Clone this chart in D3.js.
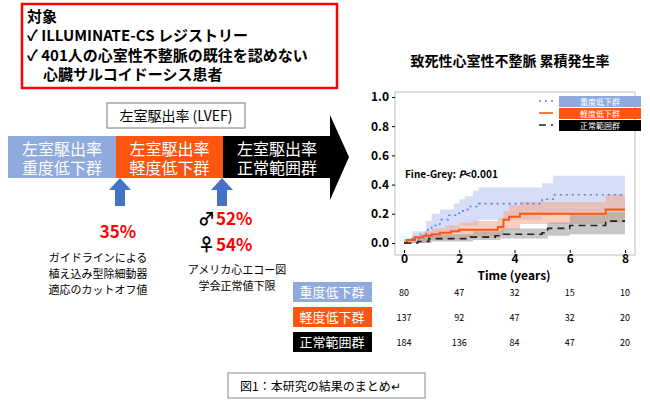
<!DOCTYPE html>
<html><head><meta charset="utf-8">
<script src="https://cdn.jsdelivr.net/npm/d3@7"></script>
<style>body{margin:0;background:#fff}text{font-family:"Noto Sans CJK JP","Noto Sans",sans-serif}</style>
</head><body><svg id="c" width="650" height="409"></svg>
<script>
// ---------------- data ----------------
var groups = ["重度低下群", "軽度低下群", "正常範囲群"];
var colors = ["#8faadc", "#fe5510", "#000000"];
var bandColors = ["#b4c3f0", "#f4a58a", "#999999"];
var lineColors = ["#5b7fe8", "#fe5510", "#222222"];
var dashes = ["2,4", null, "7,5"];

// cumulative incidence steps [time, value]
var severe = [[0,0],[0.3,0.03],[0.6,0.06],[0.8,0.09],[1.0,0.12],[1.3,0.16],[1.6,0.19],[2.0,0.22],[2.3,0.25],[2.7,0.27],[5.0,0.30],[5.4,0.33],[8,0.33]];
var severeHi = [[0,0.03],[0.3,0.08],[0.8,0.15],[1.0,0.20],[1.3,0.23],[1.8,0.27],[2.0,0.30],[2.2,0.32],[2.5,0.36],[2.7,0.38],[5.0,0.41],[5.4,0.46],[8,0.46]];
var severeLo = [[0,0],[0.8,0.02],[1.0,0.04],[1.3,0.07],[2.0,0.12],[2.7,0.16],[5.0,0.19],[5.4,0.21],[8,0.21]];
var mild = [[0,0],[0.1,0.02],[0.4,0.04],[0.7,0.05],[1.0,0.06],[1.3,0.07],[1.7,0.08],[2.0,0.09],[3.4,0.11],[3.6,0.16],[3.8,0.18],[4.2,0.20],[7.3,0.23],[8,0.23]];
var mildHi = [[0,0.02],[0.3,0.05],[0.7,0.08],[1.0,0.10],[1.5,0.12],[2.0,0.14],[2.5,0.15],[3.4,0.17],[3.6,0.22],[3.8,0.26],[4.2,0.28],[7.3,0.33],[8,0.33]];
var mildLo = [[0,0],[0.7,0.01],[1.0,0.02],[2.0,0.04],[3.4,0.05],[3.6,0.09],[4.2,0.13],[7.3,0.14],[8,0.14]];
var normal = [[0,0],[0.5,0.01],[0.9,0.03],[2.4,0.04],[3.3,0.05],[3.6,0.06],[5.0,0.07],[5.2,0.10],[6.0,0.12],[7.3,0.15],[8,0.15]];
var normalHi = [[0,0.01],[0.5,0.04],[1.0,0.06],[2.5,0.08],[3.5,0.10],[5.2,0.14],[6.0,0.20],[7.3,0.21],[8,0.21]];
var normalLo = [[0,0],[1.0,0.01],[2.5,0.02],[3.5,0.03],[5.2,0.05],[6.0,0.06],[8,0.06]];

var riskTimes = [0, 2, 4, 6, 8];
var atRisk = [[80,47,32,15,10],[137,92,47,32,20],[184,136,84,47,20]];
var yTicks = [0, 0.2, 0.4, 0.6, 0.8, 1.0];

var svg = d3.select("#c");

// ---------------- left panel ----------------
svg.append("rect").attr("x",22).attr("y",4).attr("width",315).attr("height",84)
  .attr("fill","#fff").attr("stroke","#f00").attr("stroke-width",2.5);
var boxLines = [["対象",27,22],["✓ ILLUMINATE-CS レジストリー",27,41],["✓ 401人の心室性不整脈の既往を認めない",27,61],["心臓サルコイドーシス患者",43,80]];
svg.selectAll(".bl").data(boxLines).enter().append("text")
  .attr("x",d=>d[1]).attr("y",d=>d[2]).attr("font-size",15).attr("font-weight","bold").text(d=>d[0]);

svg.append("rect").attr("x",107).attr("y",103).attr("width",138).attr("height",25)
  .attr("fill","#fff").attr("stroke","#777");
svg.append("text").attr("x",176).attr("y",121).attr("text-anchor","middle").attr("font-size",14).text("左室駆出率 (LVEF)");

var segX = [8,116,223,331];
groups.forEach(function(g,i){
  svg.append("rect").attr("x",segX[i]).attr("y",136).attr("width",segX[i+1]-segX[i]).attr("height",42).attr("fill",colors[i]);
  var cx = (segX[i]+segX[i+1])/2;
  svg.append("text").attr("x",cx).attr("y",155).attr("text-anchor","middle").attr("fill","#fff").attr("font-size",16).text("左室駆出率");
  svg.append("text").attr("x",cx).attr("y",174).attr("text-anchor","middle").attr("fill","#fff").attr("font-size",16).text(g);
});
svg.append("path").attr("d","M330,115L349,157L330,200Z").attr("fill","#000");

[120,222].forEach(function(x){
  svg.append("path").attr("d",`M${x},178L${x+11},190L${x+5},190L${x+5},206L${x-5},206L${x-5},190L${x-11},190Z`).attr("fill","#4472c4");
});
svg.append("text").attr("x",118).attr("y",238).attr("text-anchor","middle").attr("fill","#f00").attr("font-size",17).attr("font-weight","bold").text("35%");
svg.append("text").attr("x",198).attr("y",225).attr("font-size",17).attr("font-weight","bold").text("♂");
svg.append("text").attr("x",216).attr("y",225).attr("fill","#f00").attr("font-size",17).attr("font-weight","bold").text("52%");
svg.append("text").attr("x",198).attr("y",251).attr("font-size",17).attr("font-weight","bold").text("♀");
svg.append("text").attr("x",216).attr("y",251).attr("fill","#f00").attr("font-size",17).attr("font-weight","bold").text("54%");
var notes = [["ガイドラインによる",98,262],["植え込み型除細動器",98,278],["適応のカットオフ値",98,294],["アメリカ心エコー図",237,274],["学会正常値下限",237,290]];
svg.selectAll(".nt").data(notes).enter().append("text").attr("x",d=>d[1]).attr("y",d=>d[2])
  .attr("text-anchor","middle").attr("font-size",11).text(d=>d[0]);

// ---------------- chart ----------------
svg.append("text").attr("x",510).attr("y",66).attr("text-anchor","middle").attr("font-size",14).attr("font-weight","bold").text("致死性心室性不整脈 累積発生率");
svg.append("rect").attr("x",395).attr("y",92).attr("width",240).attr("height",163).attr("fill","#fff").attr("stroke","#bbb");

var x = d3.scaleLinear().domain([0,8]).range([404,625]);
var y = d3.scaleLinear().domain([0,1]).range([243,97]);

var ax = svg.append("g").attr("transform","translate(0,250)").call(d3.axisBottom(x).tickValues([0,2,4,6,8]).tickSize(3).tickPadding(1));
ax.selectAll("text").attr("font-size",12).attr("font-weight","bold").attr("font-family","Noto Sans");
ax.select(".domain").remove();
var ay = svg.append("g").attr("transform","translate(395,0)").call(d3.axisLeft(y).tickValues(yTicks).tickFormat(d3.format(".1f")).tickSize(3));
ay.selectAll("text").attr("font-size",12).attr("font-weight","bold").attr("font-family","Noto Sans");
ay.select(".domain").remove();
svg.append("text").attr("x",514).attr("y",280).attr("text-anchor","middle").attr("font-size",12).attr("font-weight","bold").attr("font-family","Noto Sans").text("Time (years)");

function stepVal(arr, t){ var v = arr[0][1]; arr.forEach(p=>{ if(p[0]<=t) v=p[1]; }); return v; }
var sets = [[severe,severeHi,severeLo],[mild,mildHi,mildLo],[normal,normalHi,normalLo]];
var area = d3.area().curve(d3.curveStepAfter).x(d=>x(d.t)).y0(d=>y(d.lo)).y1(d=>y(d.hi));
sets.forEach(function(s,i){
  var ts = Array.from(new Set(s[1].map(p=>p[0]).concat(s[2].map(p=>p[0])))).sort((a,b)=>a-b);
  var pts = ts.map(t=>({t:t, hi:stepVal(s[1],t), lo:stepVal(s[2],t)}));
  svg.append("path").datum(pts).attr("d",area).attr("fill",bandColors[i]).attr("opacity",0.55);
});
var line = d3.line().curve(d3.curveStepAfter).x(d=>x(d[0])).y(d=>y(d[1]));
sets.forEach(function(s,i){
  svg.append("path").datum(s[0]).attr("d",line).attr("fill","none").attr("stroke",lineColors[i])
    .attr("stroke-width",i==1?2:1.6).attr("stroke-dasharray",dashes[i]);
});
svg.append("text").attr("x",405).attr("y",178).attr("font-size",10).attr("font-weight","bold").attr("font-family","Noto Sans")
  .html('Fine-Grey: <tspan font-style="italic">P</tspan>&lt;0.001');

// legend
groups.forEach(function(g,i){
  var ly = 96 + i*12;
  svg.append("line").attr("x1",539).attr("x2",553).attr("y1",ly+5).attr("y2",ly+5)
    .attr("stroke",lineColors[i]).attr("stroke-width",1.6).attr("stroke-dasharray",dashes[i]);
  svg.append("rect").attr("x",559).attr("y",ly).attr("width",82).attr("height",11).attr("fill",colors[i]);
  svg.append("text").attr("x",600).attr("y",ly+9).attr("text-anchor","middle").attr("fill","#fff").attr("font-size",8).text(g);
});

// risk table
groups.forEach(function(g,i){
  var ry = 282 + i*25;
  svg.append("rect").attr("x",293).attr("y",ry).attr("width",79).attr("height",20).attr("fill",colors[i]);
  svg.append("text").attr("x",332).attr("y",ry+15).attr("text-anchor","middle").attr("fill","#fff").attr("font-size",13).text(g);
  svg.selectAll(".r"+i).data(atRisk[i]).enter().append("text")
    .attr("x",(d,j)=>x(riskTimes[j])).attr("y",ry+14).attr("text-anchor","middle")
    .attr("font-size",9).attr("font-family","Noto Sans").text(d=>d);
});

// caption
svg.append("rect").attr("x",228).attr("y",373).attr("width",197).attr("height",25).attr("fill","#fff").attr("stroke","#888");
svg.append("text").attr("x",240).attr("y",391).attr("font-size",12).attr("font-family","Noto Serif CJK JP,DejaVu Serif,serif").text("図1：本研究の結果のまとめ↵");
</script></body></html>
